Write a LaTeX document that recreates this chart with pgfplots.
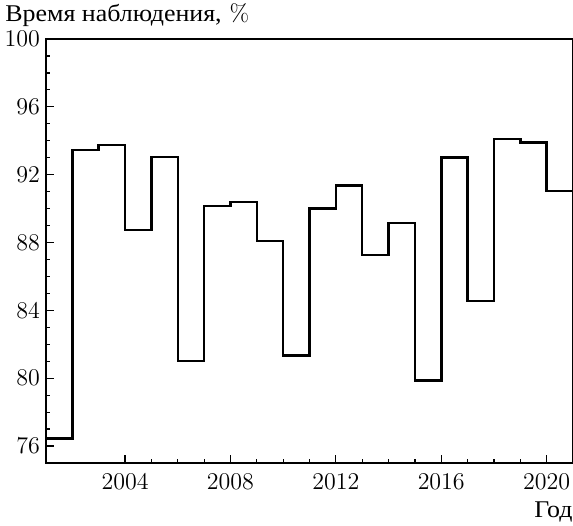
\documentclass[border=0pt]{standalone}
\usepackage{fontspec}
\usepackage{pgfplots}
\pgfplotsset{compat=1.18}
\newfontfamily\cyr[FakeStretch=1.08]{Liberation Serif}

\begin{document}
\begin{tikzpicture}
\begin{axis}[
    width=263.5pt, height=212pt,
    scale only axis,
    xmin=2001, xmax=2021,
    ymin=75, ymax=100,
    xtick={2004,2008,2012,2016,2020},
    ytick={76,80,84,88,92,96,100},
    minor x tick num=3,
    minor y tick num=3,
    tick pos=left,
    tick align=inside,
    major tick length=4pt,
    minor tick length=2.2pt,
    tick style={black, line width=0.6pt},
    axis line style={black, line width=0.65pt},
    x tick label style={/pgf/number format/1000 sep={}, yshift=-2pt},
    y tick label style={xshift=0.5pt},
    ticklabel style={font=\fontsize{12}{14}\selectfont},
    clip=false,
]
\addplot[const plot mark left, black, line width=1.25pt] coordinates {
    (2001,76.45) (2002,93.45) (2003,93.75) (2004,88.75) (2005,93.05)
    (2006,81.0)  (2007,90.15) (2008,90.4)  (2009,88.1)  (2010,81.35)
    (2011,90.0)  (2012,91.35) (2013,87.25) (2014,89.15) (2015,79.85)
    (2016,93.0)  (2017,84.55) (2018,94.1)  (2019,93.9)  (2020,91.05)
    (2021,91.05)
};
\node[anchor=base west, inner sep=0pt, font=\fontsize{12}{14}\selectfont]
    at ([xshift=-20.5pt, yshift=9pt]rel axis cs:0,1) {{\cyr Время наблюдения,} \%};
\node[anchor=base east, inner sep=0pt, font=\fontsize{12}{14}\selectfont]
    at ([yshift=-27pt]rel axis cs:1,0) {\cyr Год};
\coordinate (bl) at ([xshift=-23pt, yshift=-31pt]rel axis cs:0,0);
\coordinate (tr) at ([yshift=19.5pt]rel axis cs:1,1);
\end{axis}
\pgfresetboundingbox
\useasboundingbox (bl) rectangle (tr);
\end{tikzpicture}
\end{document}
